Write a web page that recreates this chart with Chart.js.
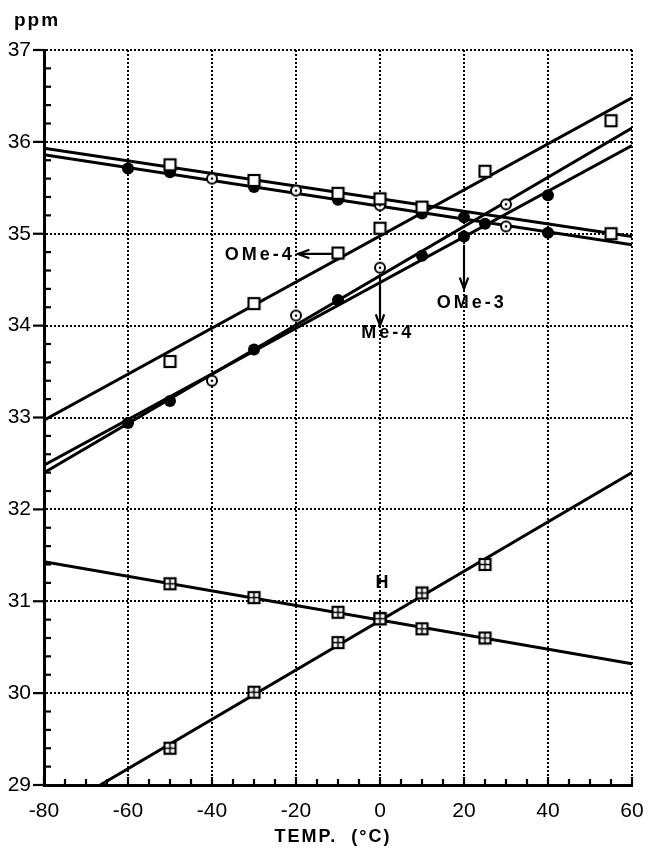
<!DOCTYPE html>
<html><head><meta charset="utf-8">
<script src="https://cdn.jsdelivr.net/npm/chart.js@4/dist/chart.umd.min.js"></script>
<style>html,body{margin:0;padding:0;background:#fff}canvas{display:block}</style>
</head><body>
<canvas id="c" width="648" height="850"></canvas>
<script>
// ---------- data ----------
const xTicks = [-80, -60, -40, -20, 0, 20, 40, 60];
const yTicks = [29, 30, 31, 32, 33, 34, 35, 36, 37];

// OMe-4 (open squares)
const ome4DecT = [-50, -30, -10, 0, 10, 55];
const ome4DecV = [35.75, 35.58, 35.44, 35.38, 35.29, 35.00];
const ome4IncT = [-50, -30, -10, 0, 25, 55];
const ome4IncV = [33.61, 34.24, 34.79, 35.06, 35.68, 36.23];
// OMe-3 (filled circles)
const ome3DecT = [-60, -50, -30, -10, 10, 20, 25, 40];
const ome3DecV = [35.71, 35.67, 35.51, 35.37, 35.22, 35.18, 35.11, 35.01];
const ome3IncT = [-60, -50, -30, -10, 10, 20, 40];
const ome3IncV = [32.94, 33.18, 33.74, 34.28, 34.76, 34.97, 35.42];
// Me-4 (open circles)
const me4DecT = [-40, -20, 0, 30];
const me4DecV = [35.60, 35.47, 35.31, 35.08];
const me4IncT = [-40, -20, 0, 30];
const me4IncV = [33.40, 34.11, 34.63, 35.32];
// H (crossed squares)
const hDecT = [-50, -30, -10, 0, 10, 25];
const hDecV = [31.19, 31.04, 30.88, 30.81, 30.70, 30.60];
const hIncT = [-50, -30, -10, 0, 10, 25];
const hIncV = [29.40, 30.01, 30.55, 30.81, 31.09, 31.40];

// straight fitted lines, values read at T = -80 and T = 60
const fitT = [-80, 60];
const ome4DecFit = [35.93, 34.97];
const ome3DecFit = [35.86, 34.88];
const ome4IncFit = [32.97, 36.48];
const ome3IncFit = [32.48, 35.96];
const me4IncFit = [32.40, 36.15];
const hDecFit = [31.43, 30.32];
const hIncFit = [28.64, 32.40];

// labels and arrows (data coordinates)
const labelText = ['OMe-4', 'OMe-3', 'Me-4', 'H'];
const labelT = [-29, 21.5, 1.5, 0.5];
const labelV = [34.77, 34.25, 33.92, 31.2];
const arrowFromT = [-11.5, 20, 0];
const arrowFromV = [34.78, 34.88, 34.53];
const arrowToT = [-19.5, 20, 0];
const arrowToV = [34.78, 34.40, 34.00];

// ---------- marker images ----------
function mk(w, draw) { const c = document.createElement('canvas'); c.width = w; c.height = w; draw(c.getContext('2d'), w); return c; }
const sqImg = mk(15, g => { g.fillStyle = '#fff'; g.fillRect(2, 2, 11, 11); g.lineWidth = 2.2; g.strokeStyle = '#000'; g.strokeRect(2, 2, 11, 11); });
const sqPlusImg = mk(15, g => {
  g.fillStyle = '#fff'; g.fillRect(2, 2, 11, 11); g.lineWidth = 2.2; g.strokeStyle = '#000'; g.strokeRect(2, 2, 11, 11);
  g.lineWidth = 1.6; g.beginPath(); g.moveTo(7.5, 2); g.lineTo(7.5, 13); g.moveTo(2, 7.5); g.lineTo(13, 7.5); g.stroke();
});
const circImg = mk(14, g => {
  g.beginPath(); g.arc(7, 7, 5, 0, Math.PI * 2); g.fillStyle = '#fff'; g.fill();
  g.lineWidth = 2; g.strokeStyle = '#000'; g.stroke();
  g.beginPath(); g.arc(7, 7, 1.3, 0, Math.PI * 2); g.fillStyle = '#000'; g.fill();
});

const pts = (T, V) => T.map((t, i) => ({ x: t, y: V[i] }));
const fit = V => fitT.map((t, i) => ({ x: t, y: V[i] }));
const markerDs = (label, T, V, style, r) => ({ label, data: pts(T, V), showLine: false, pointStyle: style, pointRadius: r, pointBackgroundColor: '#000', pointBorderWidth: 0, order: 1 });
const lineDs = (label, V) => ({ label, data: fit(V), showLine: true, pointRadius: 0, borderColor: '#000', borderWidth: 3, order: 2 });

const FONT = "'Liberation Sans', Arial, Helvetica, sans-serif";
Chart.defaults.font.family = FONT;

const deco = {
  id: 'deco',
  afterDraw(chart) {
    const { ctx, chartArea: a, scales: { x, y } } = chart;
    ctx.save();
    ctx.strokeStyle = '#000'; ctx.fillStyle = '#000'; ctx.lineWidth = 2.2;
    // y ticks: majors outside, minors inside every 0.2
    for (let i = 0; i <= 40; i++) {
      const py = y.getPixelForValue(29 + i * 0.2);
      ctx.beginPath();
      if (i % 5 === 0) { ctx.moveTo(a.left - 11, py); ctx.lineTo(a.left, py); }
      else { ctx.moveTo(a.left, py); ctx.lineTo(a.left + 7, py); }
      ctx.stroke();
    }
    // x ticks every 5 degrees, inside
    for (let i = 0; i <= 28; i++) {
      const px = x.getPixelForValue(-80 + i * 5);
      ctx.beginPath(); ctx.moveTo(px, a.bottom); ctx.lineTo(px, a.bottom - (i % 4 === 0 ? 8 : 6)); ctx.stroke();
    }
    // arrows
    for (let i = 0; i < arrowFromT.length; i++) {
      const x1 = x.getPixelForValue(arrowFromT[i]), y1 = y.getPixelForValue(arrowFromV[i]);
      const x2 = x.getPixelForValue(arrowToT[i]), y2 = y.getPixelForValue(arrowToV[i]);
      const ang = Math.atan2(y2 - y1, x2 - x1);
      ctx.lineWidth = 2.2;
      ctx.beginPath(); ctx.moveTo(x1, y1); ctx.lineTo(x2, y2); ctx.stroke();
      ctx.beginPath();
      ctx.moveTo(x2 - 12 * Math.cos(ang - 0.36), y2 - 12 * Math.sin(ang - 0.36));
      ctx.lineTo(x2, y2);
      ctx.lineTo(x2 - 12 * Math.cos(ang + 0.36), y2 - 12 * Math.sin(ang + 0.36));
      ctx.stroke();
    }
    // labels
    ctx.textAlign = 'center'; ctx.textBaseline = 'middle';
    ctx.font = "bold 18px " + FONT;
    ctx.letterSpacing = '3px';
    for (let i = 0; i < labelText.length; i++) {
      ctx.fillText(labelText[i], x.getPixelForValue(labelT[i]) + 1.5, y.getPixelForValue(labelV[i]));
    }
    // axis titles
    ctx.font = "bold 19px " + FONT;
    ctx.letterSpacing = '2px';
    ctx.textAlign = 'left';
    ctx.fillText('ppm', 14, 21);
    ctx.font = "bold 18px " + FONT;
    ctx.textAlign = 'center';
    ctx.fillText('TEMP.  (\u00B0C)', 333, 837);
    ctx.restore();
  }
};

new Chart(document.getElementById('c'), {
  type: 'scatter',
  data: {
    datasets: [
      markerDs('OMe-4 dec', ome4DecT, ome4DecV, sqImg, 7),
      markerDs('OMe-4 inc', ome4IncT, ome4IncV, sqImg, 7),
      markerDs('OMe-3 dec', ome3DecT, ome3DecV, 'circle', 6),
      markerDs('OMe-3 inc', ome3IncT, ome3IncV, 'circle', 6),
      markerDs('Me-4 dec', me4DecT, me4DecV, circImg, 7),
      markerDs('Me-4 inc', me4IncT, me4IncV, circImg, 7),
      markerDs('H dec', hDecT, hDecV, sqPlusImg, 7),
      markerDs('H inc', hIncT, hIncV, sqPlusImg, 7),
      lineDs('OMe-4 dec fit', ome4DecFit),
      lineDs('OMe-3 dec fit', ome3DecFit),
      lineDs('OMe-4 inc fit', ome4IncFit),
      lineDs('OMe-3 inc fit', ome3IncFit),
      lineDs('Me-4 inc fit', me4IncFit),
      lineDs('H dec fit', hDecFit),
      lineDs('H inc fit', hIncFit)
    ]
  },
  options: {
    responsive: false,
    animation: false,
    layout: { padding: { top: 50, right: 16, left: 0, bottom: 0 } },
    plugins: { legend: { display: false }, tooltip: { enabled: false } },
    scales: {
      x: {
        type: 'linear', min: -80, max: 60,
        afterBuildTicks: s => { s.ticks = xTicks.map(v => ({ value: v })); },
        afterFit: s => { s.height = 65; s.paddingLeft = 0; s.paddingRight = 0; },
        ticks: { color: '#000', font: { size: 21 }, padding: 14, maxRotation: 0, autoSkip: false },
        grid: { color: '#000', lineWidth: 2, drawTicks: false },
        border: { display: true, color: '#000', width: 3, dash: [2, 2] }
      },
      y: {
        type: 'linear', min: 29, max: 37,
        afterBuildTicks: s => { s.ticks = yTicks.map(v => ({ value: v })); },
        afterFit: s => { s.width = 44; s.paddingTop = 0; s.paddingBottom = 0; },
        ticks: { color: '#000', font: { size: 21 }, padding: 13, autoSkip: false },
        grid: { color: '#000', lineWidth: 2, drawTicks: false },
        border: { display: true, color: '#000', width: 3, dash: [2, 2] }
      }
    }
  },
  plugins: [deco]
});
</script>
</body></html>
